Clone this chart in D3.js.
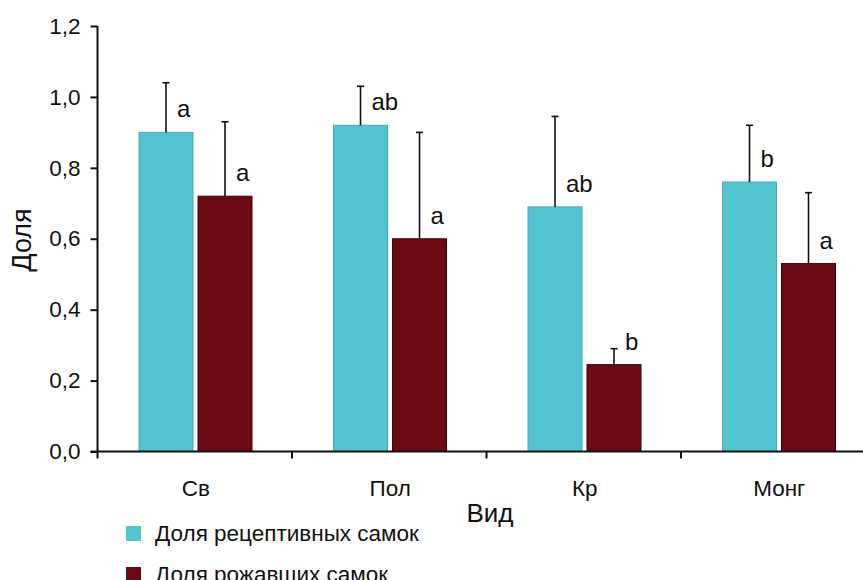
<!DOCTYPE html>
<html>
<head>
<meta charset="utf-8">
<script src="https://cdn.jsdelivr.net/npm/d3@7"></script>
<style>
  html, body { margin: 0; padding: 0; background: #fff; }
  svg { display: block; font-family: "Liberation Sans", Arial, sans-serif; }
</style>
</head>
<body>
<svg id="chart" width="863" height="580"></svg>
<script>
// Species groups and series
const categories = ["Св", "Пол", "Кр", "Монг"];
const seriesNames = ["Доля рецептивных самок", "Доля рожавших самок"];
const seriesColors = ["#52c4cf", "#6b0a14"];

// Mean proportions per species
const receptiveValues = [0.90, 0.92, 0.69, 0.76];
const parousValues = [0.72, 0.60, 0.245, 0.53];

// Upper error (SE) per species
const receptiveErrors = [0.14, 0.11, 0.255, 0.16];
const parousErrors = [0.21, 0.30, 0.045, 0.20];

// Significance letters
const receptiveLetters = ["a", "ab", "ab", "b"];
const parousLetters = ["a", "a", "b", "a"];

// Y axis ticks
const yTicks = [0, 0.2, 0.4, 0.6, 0.8, 1.0, 1.2];

const svg = d3.select("#chart");

const plot = { left: 97.5, right: 875.5, top: 26, bottom: 451.5 };

const x = d3.scaleBand().domain(categories).range([plot.left, plot.right]).padding(0);
const bandW = x.bandwidth();
const xs = d3.scaleBand().domain([0, 1])
  .range([bandW * 0.2134, bandW * 0.7944])
  .paddingInner(0.085).paddingOuter(0);

const y = d3.scaleLinear().domain([0, 1.2]).range([plot.bottom, plot.top]);

const series = [
  { values: receptiveValues, errors: receptiveErrors, letters: receptiveLetters, color: seriesColors[0], stroke: "#4aa9b2" },
  { values: parousValues, errors: parousErrors, letters: parousLetters, color: seriesColors[1], stroke: "#3a0508" }
];

const rows = [];
series.forEach((s, si) => {
  categories.forEach((c, ci) => {
    rows.push({ cat: c, si, value: s.values[ci], err: s.errors[ci], letter: s.letters[ci], color: s.color, stroke: s.stroke });
  });
});

// Bars
svg.append("g").selectAll("rect").data(rows).join("rect")
  .attr("x", d => x(d.cat) + xs(d.si))
  .attr("y", d => y(d.value))
  .attr("width", xs.bandwidth())
  .attr("height", d => y(0) - y(d.value))
  .attr("fill", d => d.color)
  .attr("stroke", d => d.stroke)
  .attr("stroke-width", 1);

// Error bars (upper only)
const eb = svg.append("g").attr("stroke", "#111").attr("stroke-width", 1.6);
rows.forEach(d => {
  const cx = x(d.cat) + xs(d.si) + xs.bandwidth() / 2;
  eb.append("line").attr("x1", cx).attr("x2", cx)
    .attr("y1", y(d.value)).attr("y2", y(d.value + d.err));
  eb.append("line").attr("x1", cx - 3.5).attr("x2", cx + 3.5)
    .attr("y1", y(d.value + d.err)).attr("y2", y(d.value + d.err));
});

// Significance letters
svg.append("g").selectAll("text").data(rows).join("text")
  .attr("x", d => x(d.cat) + xs(d.si) + xs.bandwidth() / 2 + 11)
  .attr("y", d => y(d.value) - 15)
  .attr("font-size", 24)
  .attr("fill", "#111")
  .text(d => d.letter);

// Y axis
const yAxis = svg.append("g")
  .attr("transform", `translate(${plot.left},0)`)
  .call(d3.axisLeft(y).tickValues(yTicks).tickSize(7).tickPadding(10)
    .tickFormat(d => d3.format(".1f")(d).replace(".", ",")));
yAxis.select(".domain").attr("stroke", "#111").attr("stroke-width", 2)
  .attr("d", `M0,${plot.top}V${plot.bottom}`);
yAxis.selectAll(".tick line").attr("stroke", "#111").attr("stroke-width", 2);
yAxis.selectAll(".tick text").attr("font-size", 22.5).attr("fill", "#111")
  .attr("font-family", "'Liberation Sans', Arial, sans-serif");

// X axis
const boundaries = categories.map(c => x(c)).concat([plot.right]);
const xAxis = svg.append("g").attr("transform", `translate(0,${plot.bottom})`);
xAxis.append("line").attr("x1", plot.left - 7).attr("x2", plot.right)
  .attr("y1", 0).attr("y2", 0).attr("stroke", "#111").attr("stroke-width", 2);
xAxis.selectAll(".btick").data(boundaries).join("line").attr("class", "btick")
  .attr("x1", d => d).attr("x2", d => d).attr("y1", 0).attr("y2", 7)
  .attr("stroke", "#111").attr("stroke-width", 2);
xAxis.selectAll(".clabel").data(categories).join("text").attr("class", "clabel")
  .attr("x", d => x(d) + bandW / 2 + 1)
  .attr("y", 44.5)
  .attr("text-anchor", "middle")
  .attr("font-size", 22.5)
  .attr("fill", "#111")
  .text(d => d);

// Axis titles
svg.append("text")
  .attr("x", 490).attr("y", 522)
  .attr("text-anchor", "middle").attr("font-size", 26).attr("fill", "#111")
  .text("Вид");
svg.append("text")
  .attr("transform", "translate(31,240) rotate(-90)")
  .attr("text-anchor", "middle").attr("font-size", 27).attr("fill", "#111")
  .text("Доля");

// Legend
const legend = svg.append("g").attr("transform", "translate(126,526)");
const li = legend.selectAll("g").data(seriesNames).join("g")
  .attr("transform", (d, i) => `translate(0,${i * 41})`);
li.append("rect").attr("width", 15).attr("height", 15)
  .attr("fill", (d, i) => seriesColors[i]);
li.append("text").attr("x", 29).attr("y", 15)
  .attr("font-size", 22.5).attr("fill", "#111").text(d => d);
</script>
</body>
</html>
